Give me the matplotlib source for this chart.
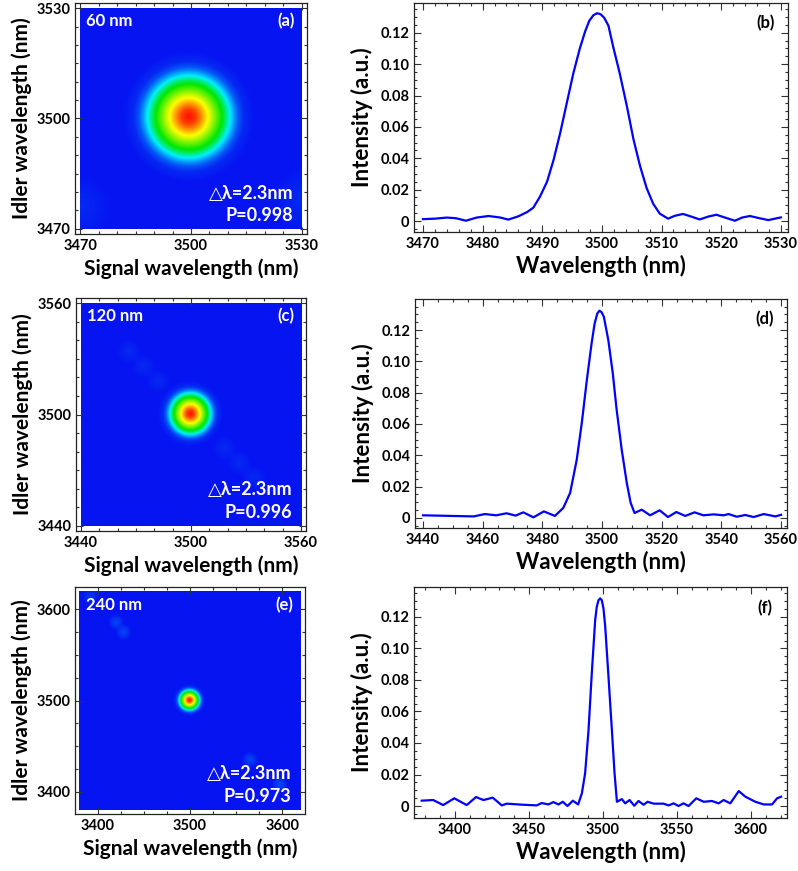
import numpy as np
import matplotlib
matplotlib.use("Agg")
import matplotlib.pyplot as plt
from matplotlib.colors import LinearSegmentedColormap
from matplotlib.ticker import MultipleLocator

plt.rcParams['font.family'] = ['Lato', 'DejaVu Sans']
plt.rcParams['font.weight'] = 'bold'

# ---- spectra ----
wl_b = [3470, 3472, 3474, 3475.5, 3477.2, 3479, 3481, 3483, 3484.3, 3486,
        3487.5, 3488.5, 3489.6, 3490.8, 3491.9, 3493.0, 3494.1, 3495.2, 3496.3, 3497.2,
        3497.9, 3498.6, 3499.2, 3499.8, 3500.4, 3501.1, 3501.9, 3503.0, 3504.2, 3505.3,
        3506.4, 3507.5, 3508.6, 3509.7, 3511.1, 3512.2, 3513.6, 3515, 3516.4, 3517.8,
        3519.2, 3520.8, 3522.3, 3523.5, 3524.8, 3526.4, 3527.9, 3530]
int_b = [0.0012, 0.0015, 0.0022, 0.0018, 0.0002, 0.0022, 0.0032, 0.0022, 0.0009, 0.003,
         0.0058, 0.0085, 0.0154, 0.025, 0.039, 0.056, 0.075, 0.094, 0.110, 0.121,
         0.1278, 0.1313, 0.1325, 0.1318, 0.1295, 0.1245, 0.111, 0.094, 0.073, 0.052,
         0.035, 0.021, 0.011, 0.0047, 0.0015, 0.0033, 0.0045, 0.0028, 0.001, 0.0028,
         0.004, 0.002, 0.0002, 0.0022, 0.0032, 0.0018, 0.0006, 0.0023]

wl_d = [3440, 3457, 3460.7, 3464.5, 3468, 3471, 3473.6, 3477, 3480.5, 3484.2,
        3487, 3489.3, 3491.5, 3493.2, 3494.9, 3496.5, 3497.5, 3498.4, 3499.1, 3499.8,
        3500.6, 3502.1, 3503.6, 3504.9, 3506.6, 3508.3, 3509.6, 3510.9, 3513.3, 3516.1,
        3519.3, 3522.1, 3524.9, 3527.9, 3531, 3534, 3537.4, 3540.8, 3542.4, 3545.2,
        3548, 3550.8, 3554.2, 3558.1, 3560]
int_d = [0.0017, 0.001, 0.0025, 0.0017, 0.003, 0.0015, 0.0036, 0.0004, 0.0042, 0.0013,
         0.0064, 0.016, 0.037, 0.0605, 0.088, 0.1115, 0.124, 0.1305, 0.1323, 0.1315,
         0.1285, 0.1136, 0.0924, 0.069, 0.0435, 0.0223, 0.0096, 0.0032, 0.0053, 0.0017,
         0.0049, 0.0006, 0.0038, 0.0013, 0.0036, 0.0017, 0.0023, 0.0017, 0.0025, 0.0008,
         0.0019, 0.0006, 0.0025, 0.001, 0.002]

wl_f = [3377.5, 3385.3, 3392, 3399.5, 3407.9, 3414.2, 3419.2, 3425.5, 3431.6, 3435,
        3446.2, 3455.2, 3458.6, 3463.1, 3466.5, 3469.9, 3472.8, 3476, 3479.6, 3483.2,
        3485.7, 3487.9, 3490.2, 3492.4, 3494.7, 3495.8, 3496.9, 3498.1, 3499.2, 3500.3,
        3501.5, 3503.7, 3506, 3507.8, 3509.4, 3512.7, 3515, 3517.9, 3521.1, 3524,
        3527.4, 3530.1, 3534.2, 3540.9, 3544.3, 3547.7, 3551, 3554.4, 3557.8, 3563,
        3568, 3573.6, 3578.1, 3581.5, 3586, 3591.7, 3596.2, 3602.9, 3608.6, 3614.2,
        3617.6, 3620.3]
int_f = [0.0034, 0.0038, 0.0006, 0.0049, 0.0006, 0.0057, 0.0038, 0.0053, 0.0004, 0.0015,
         0.0008, 0.0004, 0.0019, 0.001, 0.0025, 0.001, 0.0027, 0.0, 0.0034, 0.001,
         0.008, 0.0207, 0.048, 0.084, 0.118, 0.1265, 0.1305, 0.1318, 0.1305, 0.1255,
         0.1137, 0.082, 0.048, 0.0207, 0.0027, 0.0044, 0.0017, 0.0038, 0.0002, 0.0032,
         0.0008, 0.0027, 0.0015, 0.0015, 0.0004, 0.0017, 0.0, 0.0017, 0.0, 0.0049,
         0.0027, 0.0032, 0.0017, 0.0038, 0.0017, 0.0095, 0.0059, 0.0027, 0.001, 0.001,
         0.0049, 0.0059]

# ---- joint spectral maps: radial colour-level profile of the central spot ----
blob_r = [0, 2, 3.5, 5, 6.5, 8, 9.5, 10.5, 11.5, 12.5, 13.5, 15, 18, 400]
blob_level = [1.0, 0.95, 0.86, 0.76, 0.66, 0.56, 0.46, 0.37, 0.27, 0.17, 0.09, 0.03, 0.0, 0.0]
blob_center = (3499.4, 3500.5)

# faint side lobes along the anti-diagonal (x, y, level) per map
lobes = [
    [(3470, 3476, 0.03), (3530, 3478, 0.03)],
    [(3466, 3534, 0.03), (3474, 3526, 0.03), (3482, 3518, 0.03),
     (3518, 3482, 0.03), (3526, 3474, 0.03), (3534, 3466, 0.03)],
    [(3392, 3614, 0.05), (3420, 3586, 0.07), (3428, 3575, 0.07),
     (3565, 3435, 0.07), (3597, 3408, 0.08)],
]
lobe_size = [9, 7, 9]
lobe_r = [0, 0.5, 1, 400]
lobe_shape = [1.0, 0.6, 0.0, 0.0]

windows = ['60 nm', '120 nm', '240 nm']
map_ranges = [(3470, 3530), (3440, 3560), (3380, 3620)]
map_ticks = [[3470, 3500, 3530], [3440, 3500, 3560], [3400, 3500, 3600]]
purities = ['P=0.998', 'P=0.996', 'P=0.973']
map_tags = ['(a)', '(c)', '(e)']
spec_tags = ['(b)', '(d)', '(f)']

cmap = LinearSegmentedColormap.from_list(
    'rb', [(0.0, '#0614f2'), (0.3, '#00f0ff'), (0.5, '#00e800'),
           (0.75, '#ffff00'), (1.0, '#ff1000')])

W, H = 798, 871
fig = plt.figure(figsize=(W / 100, H / 100), dpi=100)


def ax_px(l, r, t, b):
    return fig.add_axes([l / W, 1 - b / H, (r - l) / W, (b - t) / H])


map_frames = [(75, 307, 3, 234), (76, 306, 298, 531), (75, 305, 587, 814)]
map_pads = [1.4, 2.7, 4.5]
map_minor = [5, 10, 25]
spec_frames = [(414, 788, 3, 232), (415, 787, 299, 528), (414, 787, 587, 818)]
spec_xlims = [(3468.5, 3531.2), (3437.3, 3562), (3372.3, 3624.3)]
spec_ylims = [(-0.007, 0.139), (-0.0064, 0.1398), (-0.0076, 0.139)]
spec_major = [10, 20, 50]
spec_minor = [2, 5, 10]
spectra = [(wl_b, int_b), (wl_d, int_d), (wl_f, int_f)]


def style(ax):
    ax.tick_params(which='both', direction='in', top=True, right=True,
                   labelsize=10.5, width=0.8, color='#333333')
    ax.tick_params(which='major', length=5)
    ax.tick_params(which='minor', length=2.5)
    for s in ax.spines.values():
        s.set_linewidth(0.9)
        s.set_color('#222222')


for i in range(3):
    lo, hi = map_ranges[i]
    ax = ax_px(*map_frames[i])
    g = np.linspace(lo, hi, 500)
    X, Y = np.meshgrid(g, g)
    R = np.hypot(X - blob_center[0], Y - blob_center[1])
    Z = np.interp(R, blob_r, blob_level)
    for lx, ly, lv in lobes[i]:
        d = np.hypot(X - lx, Y - ly) / lobe_size[i]
        Z = Z + lv * np.interp(d, lobe_r, lobe_shape)
    ax.imshow(Z, extent=(lo, hi, lo, hi), origin='lower', cmap=cmap,
              vmin=0, vmax=1, interpolation='bilinear', aspect='auto')
    p = map_pads[i]
    ax.set_xlim(lo - p, hi + p)
    ax.set_ylim(lo - p, hi + p)
    ax.set_xticks(map_ticks[i])
    ax.set_yticks(map_ticks[i])
    ax.xaxis.set_minor_locator(MultipleLocator(map_minor[i]))
    ax.yaxis.set_minor_locator(MultipleLocator(map_minor[i]))
    style(ax)
    ax.set_xlabel('Signal wavelength (nm)', fontsize=15, fontweight='bold', labelpad=4)
    ax.set_ylabel('Idler wavelength (nm)', fontsize=15, fontweight='bold', labelpad=3)
    ax.text(0.047, 0.922, windows[i], transform=ax.transAxes, color='white',
            fontsize=12, fontweight='bold', va='center', ha='left')
    ax.text(0.948, 0.922, map_tags[i], transform=ax.transAxes, color='white',
            fontsize=12, fontweight='bold', va='center', ha='right')
    ax.text(0.94, 0.177, '\u25b3\u03bb=2.3nm', transform=ax.transAxes, color='white',
            fontsize=13, fontweight='bold', va='center', ha='right')
    ax.text(0.94, 0.078, purities[i], transform=ax.transAxes, color='white',
            fontsize=13, fontweight='bold', va='center', ha='right')

    ax = ax_px(*spec_frames[i])
    wl, inten = spectra[i]
    ax.plot(wl, inten, color='#0000ff', lw=1.6)
    ax.set_xlim(*spec_xlims[i])
    ax.set_ylim(*spec_ylims[i])
    ax.xaxis.set_major_locator(MultipleLocator(spec_major[i]))
    ax.xaxis.set_minor_locator(MultipleLocator(spec_minor[i]))
    ax.set_yticks([0, 0.02, 0.04, 0.06, 0.08, 0.10, 0.12])
    ax.set_yticklabels(['0', '0.02', '0.04', '0.06', '0.08', '0.10', '0.12'])
    ax.yaxis.set_minor_locator(MultipleLocator(0.005))
    style(ax)
    ax.set_xlabel('Wavelength (nm)', fontsize=16, fontweight='bold', labelpad=3)
    ax.set_ylabel('Intensity (a.u.)', fontsize=16, fontweight='bold', labelpad=5)
    ax.text(0.94, 0.91, spec_tags[i], transform=ax.transAxes, color='black',
            fontsize=12, fontweight='bold', va='center', ha='center')

fig.savefig('out.png', dpi=100)
